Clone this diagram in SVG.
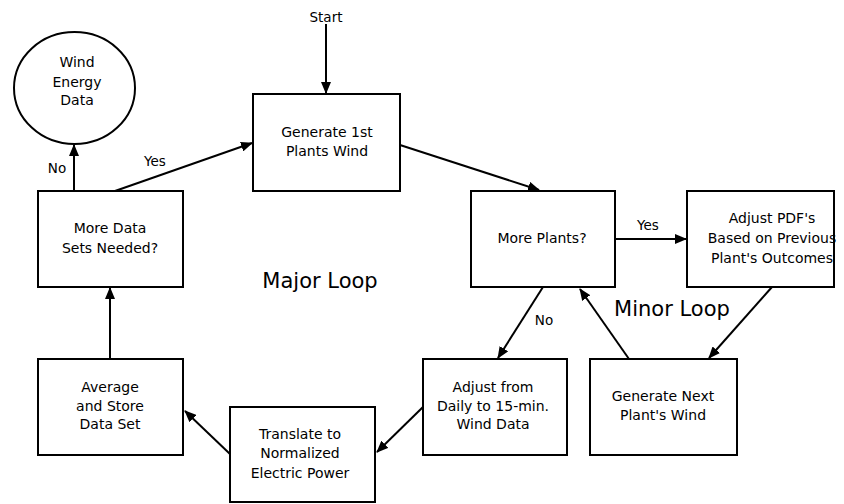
<svg xmlns="http://www.w3.org/2000/svg" width="844" height="504" viewBox="0 0 844 504">
<style>
.box{fill:#fff;stroke:#000;stroke-width:2}
.t{font-family:"DejaVu Sans",Verdana,sans-serif;font-size:14px;fill:#000;text-anchor:middle}
.l{font-family:"DejaVu Sans",Verdana,sans-serif;font-size:13.5px;fill:#000;text-anchor:middle}
.big{font-family:"DejaVu Sans",Verdana,sans-serif;font-size:21px;fill:#000;text-anchor:middle}
.c{stroke:#000;stroke-width:2;fill:none;marker-end:url(#ah)}
</style>
<defs>
<marker id="ah" markerUnits="userSpaceOnUse" markerWidth="12" markerHeight="10" refX="11" refY="5" orient="auto">
<path d="M0,0 L12,5 L0,10 z" fill="#000"/>
</marker>
</defs>
<rect width="844" height="504" fill="#fff"/>
<g id="connectors">
<line class="c" x1="326" y1="24" x2="326" y2="93"/>
<line class="c" x1="74" y1="191" x2="74" y2="145"/>
<line class="c" x1="115" y1="191" x2="252" y2="143"/>
<line class="c" x1="400" y1="145" x2="539" y2="190"/>
<line class="c" x1="615" y1="239" x2="686" y2="239"/>
<line class="c" x1="543" y1="287" x2="498" y2="358"/>
<line class="c" x1="629" y1="359" x2="580" y2="289"/>
<line class="c" x1="772" y1="287" x2="709" y2="358"/>
<line class="c" x1="423" y1="407" x2="377" y2="452"/>
<line class="c" x1="230" y1="454" x2="185" y2="411"/>
<line class="c" x1="110" y1="359" x2="110" y2="288"/>
<text class="l" x="326" y="22">Start</text>
<text class="l" x="57" y="173">No</text>
<text class="l" x="155" y="166">Yes</text>
<text class="l" x="648" y="230">Yes</text>
<text class="l" x="544" y="325">No</text>
</g>
<g id="wind-energy-data">
<ellipse class="box" cx="74.5" cy="88" rx="60.5" ry="56"/>
<text class="t" x="77" y="67">Wind</text>
<text class="t" x="77" y="87">Energy</text>
<text class="t" x="77" y="105">Data</text>
</g>
<g id="generate-first">
<rect class="box" x="253" y="94" width="147" height="97"/>
<text class="t" x="327" y="137">Generate 1st</text>
<text class="t" x="327" y="156">Plants Wind</text>
</g>
<g id="more-data-sets">
<rect class="box" x="38" y="191" width="145" height="96"/>
<text class="t" x="110" y="233">More Data</text>
<text class="t" x="110" y="253">Sets Needed?</text>
</g>
<g id="more-plants">
<rect class="box" x="471" y="191" width="144" height="96"/>
<text class="t" x="542" y="243">More Plants?</text>
</g>
<g id="adjust-pdfs">
<rect class="box" x="687" y="191" width="147" height="96"/>
<text class="t" x="772" y="223">Adjust PDF's</text>
<text class="t" x="772" y="243">Based on Previous</text>
<text class="t" x="772" y="263">Plant's Outcomes</text>
</g>
<g id="average-store">
<rect class="box" x="38" y="359" width="145" height="96"/>
<text class="t" x="110" y="392">Average</text>
<text class="t" x="110" y="411">and Store</text>
<text class="t" x="110" y="429">Data Set</text>
</g>
<g id="translate">
<rect class="box" x="230" y="407" width="145" height="95"/>
<text class="t" x="300" y="439">Translate to</text>
<text class="t" x="300" y="458">Normalized</text>
<text class="t" x="300" y="478">Electric Power</text>
</g>
<g id="adjust-from">
<rect class="box" x="423" y="359" width="144" height="96"/>
<text class="t" x="493" y="392">Adjust from</text>
<text class="t" x="493" y="411">Daily to 15-min.</text>
<text class="t" x="493" y="429">Wind Data</text>
</g>
<g id="generate-next">
<rect class="box" x="590" y="359" width="147" height="96"/>
<text class="t" x="663" y="401">Generate Next</text>
<text class="t" x="663" y="420">Plant's Wind</text>
</g>
<text class="big" x="320" y="288">Major Loop</text>
<text class="big" x="672" y="316">Minor Loop</text>
</svg>
